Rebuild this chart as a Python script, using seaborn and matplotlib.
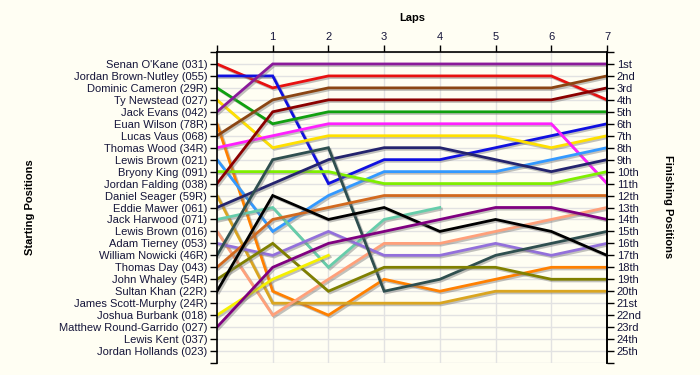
import numpy as np
import pandas as pd
import matplotlib
matplotlib.use("Agg")
import matplotlib.pyplot as plt
import matplotlib.patheffects as pe
import seaborn as sns

nan = np.nan

drivers = ["Senan O'Kane (031)", "Jordan Brown-Nutley (055)", "Dominic Cameron (29R)",
           "Ty Newstead (027)", "Jack Evans (042)", "Euan Wilson (78R)", "Lucas Vaus (068)",
           "Thomas Wood (34R)", "Lewis Brown (021)", "Bryony King (091)", "Jordan Falding (038)",
           "Daniel Seager (59R)", "Eddie Mawer (061)", "Jack Harwood (071)", "Lewis Brown (016)",
           "Adam Tierney (053)", "William Nowicki (46R)", "Thomas Day (043)", "John Whaley (54R)",
           "Sultan Khan (22R)", "James Scott-Murphy (24R)", "Joshua Burbank (018)",
           "Matthew Round-Garrido (027)", "Lewis Kent (037)", "Jordan Hollands (023)"]

colors = ["#E81010", "#1010E0", "#10A010", "#FFE000", "#8A1A9A", "#FF8000", "#8B4513",
          "#FF20FF", "#3399FF", "#7FEF00", "#8B0000", "#DAA520", "#24246E", "#66CDAA",
          "#FFA07A", "#9370DB", "#2F4F4F", "#D2691E", "#808000", "#000000", "#999999",
          "#F5F000", "#800080", "#999999", "#999999"]

lap0 = [1, 2, 3, 4, 5, 6, 7, 8, 9, 10, 11, 12, 13, 14, 15, 16, 17, 18, 19, 20, nan, 22, 23, nan, nan]
lap1 = [3, 2, 6, 8, 1, 20, 4, 7, 15, 10, 5, 21, 11, 13, 22, 17, 9, 14, 16, 12, nan, 19, 18, nan, nan]
lap2 = [2, 11, 5, 7, 1, 22, 3, 6, 12, 10, 4, 21, 9, 18, 19, 15, 8, 13, 20, 14, nan, 17, 16, nan, nan]
lap3 = [2, 9, 5, 7, 1, 19, 3, 6, 10, 11, 4, 21, 8, 14, 16, 17, 20, 12, 18, 13, nan, nan, 15, nan, nan]
lap4 = [2, 9, 5, 7, 1, 20, 3, 6, 10, 11, 4, 21, 8, 13, 16, 17, 19, 12, 18, 15, nan, nan, 14, nan, nan]
lap5 = [2, 8, 5, 7, 1, 19, 3, 6, 10, 11, 4, 20, 9, nan, 15, 16, 17, 12, 18, 14, nan, nan, 13, nan, nan]
lap6 = [2, 7, 5, 8, 1, 18, 3, 6, 9, 11, 4, 20, 10, nan, 14, 17, 16, 12, 19, 15, nan, nan, 13, nan, nan]
lap7 = [4, 6, 5, 7, 1, 18, 2, 11, 8, 10, 3, 20, 9, nan, 13, 16, 15, 12, 19, 17, nan, nan, 14, nan, nan]

lap_numbers = [0, 1, 2, 3, 4, 5, 6, 7]
lap_tick_labels = ["", "1", "2", "3", "4", "5", "6", "7"]
finish_labels = ["1st", "2nd", "3rd", "4th", "5th", "6th", "7th", "8th", "9th", "10th",
                 "11th", "12th", "13th", "14th", "15th", "16th", "17th", "18th", "19th",
                 "20th", "21st", "22nd", "23rd", "24th", "25th"]

laps = [lap0, lap1, lap2, lap3, lap4, lap5, lap6, lap7]
rows = []
for li, lp in zip(lap_numbers, laps):
    for d, p in zip(drivers, lp):
        rows.append({"driver": d, "lap": li, "pos": p})
df = pd.DataFrame(rows).dropna()
palette = {d: c for d, c in zip(drivers, colors)}

bg = "#FFFEF3"
txt = "#15153a"
plt.rcParams["font.family"] = ["Liberation Sans", "DejaVu Sans"]

fig = plt.figure(figsize=(7, 3.75), dpi=100, facecolor=bg)
ax = fig.add_axes([217 / 700, 12 / 375, 390 / 700, 311 / 375])
ax.set_facecolor(bg)

sns.lineplot(data=df, x="lap", y="pos", hue="driver", hue_order=[d for d in drivers if d in set(df.driver)],
             palette=palette, estimator=None, sort=True, legend=False, lw=2.0, ax=ax)
for ln in ax.lines:
    ln.set_path_effects([pe.SimpleLineShadow(offset=(1.2, -1.2), shadow_color="#777777", alpha=0.45),
                         pe.Normal()])
    ln.set_solid_joinstyle("miter")

ax.set_xlim(0, 7)
ax.set_ylim(26, 0)
ax.xaxis.tick_top()
ax.set_xticks(lap_numbers)
ax.set_xticklabels(lap_tick_labels)
ax.set_yticks(range(0, 27))
ax.set_yticklabels([""] + drivers + [""])
ax.set_xlabel("")
ax.set_ylabel("")
ax.grid(True, color="#e2e2e2", lw=1.0)
ax.set_axisbelow(True)
for s in ["bottom"]:
    ax.spines[s].set_visible(False)
for s in ["top", "left", "right"]:
    ax.spines[s].set_color("black")
    ax.spines[s].set_linewidth(1.2)
ax.tick_params(axis="both", length=5, width=1, color="black", labelsize=8, labelcolor=txt, pad=2)

ax2 = ax.twinx()
ax2.set_ylim(26, 0)
ax2.set_yticks(range(0, 27))
ax2.set_yticklabels([""] + finish_labels + [""])
ax2.spines["bottom"].set_visible(False)
ax2.spines["top"].set_visible(False)
ax2.spines["left"].set_visible(False)
ax2.spines["right"].set_linewidth(1.2)
ax2.tick_params(axis="y", length=5, width=1, color="black", labelsize=8, labelcolor=txt, pad=2)

fig.text(412 / 700, 1 - 18 / 375, "Laps", ha="center", va="center", fontsize=8, fontweight="bold", color="black")
fig.text(30 / 700, 1 - 207 / 375, "Starting Positions", ha="center", va="center", rotation=90,
         fontsize=8, fontweight="bold", color="black")
fig.text(668 / 700, 1 - 207 / 375, "Finishing Positions", ha="center", va="center", rotation=270,
         fontsize=8, fontweight="bold", color="black")

fig.savefig("out.png", dpi=100, facecolor=bg)
